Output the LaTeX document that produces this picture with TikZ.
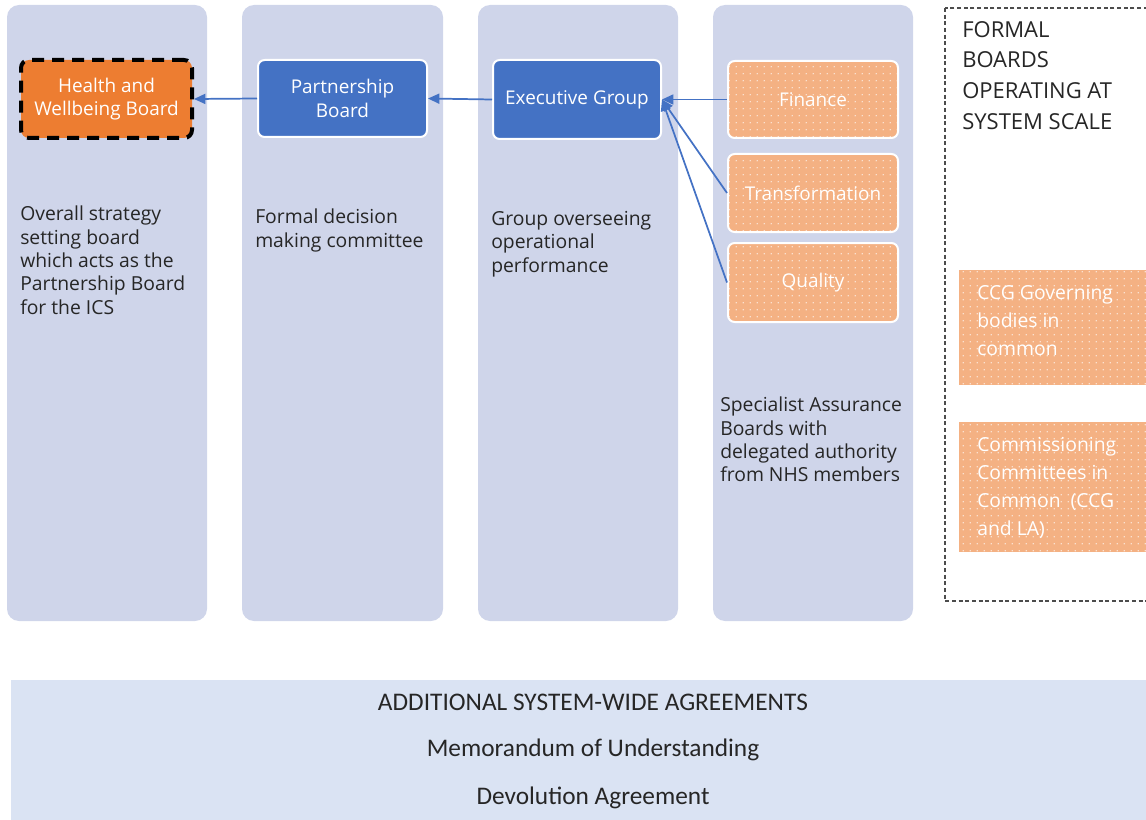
\documentclass[tikz,border=0pt]{standalone}
\usepackage{fontspec}
\setmainfont{Open Sans}
\newfontfamily\calfont{Carlito}
\usetikzlibrary{arrows.meta,patterns.meta}
\definecolor{panel}{HTML}{CFD5EA}
\definecolor{band}{HTML}{DAE3F3}
\definecolor{hwbor}{HTML}{ED7D31}
\definecolor{boxblue}{HTML}{4472C4}
\definecolor{peach}{HTML}{F4B183}
\definecolor{txt}{HTML}{262626}
\tikzdeclarepattern{
  name=wdots,
  type=uncolored,
  bounding box={(0pt,0pt) and (5pt,5pt)},
  tile size={(5pt,5pt)},
  code={\pgfpathcircle{\pgfpoint{2.5pt}{2.5pt}}{0.55pt}\pgfusepath{fill}}
}
\tikzset{
  panelbox/.style={fill=panel, rounded corners=9pt},
  bluebox/.style={fill=boxblue, draw=white, line width=1.5pt, rounded corners=5pt,
    text=white, align=center, font=\fontsize{14.2}{17.5}\selectfont, inner sep=0pt},
  hwbbox/.style={fill=hwbor, draw=black, line width=3pt, dash pattern=on 9pt off 6pt,
    rounded corners=6pt, text=white, align=center, font=\fontsize{14.2}{17.5}\selectfont, inner sep=0pt},
  dotbox/.style={preaction={fill=peach}, pattern=wdots, pattern color=white!85!peach,
    draw=white, line width=1.5pt, rounded corners=5pt, text=white, align=center,
    font=\fontsize{14.2}{17.5}\selectfont, inner sep=0pt},
  dotfill/.style={preaction={fill=peach}, pattern=wdots, pattern color=white!85!peach},
  dottext/.style={text=white, align=left, anchor=north west, inner sep=0pt,
    font=\fontsize{14.5}{21}\selectfont},
  desc/.style={text=txt, align=left, anchor=north west, inner sep=0pt,
    font=\fontsize{14.5}{17.5}\selectfont},
  link/.style={draw=boxblue, line width=1.3pt, -{Triangle[length=8.5pt,width=7.5pt]}},
  bandtext/.style={text=txt, font=\calfont\fontsize{19}{21}\selectfont, inner sep=0pt}
}
\begin{document}
\begin{tikzpicture}[x=0.75pt,y=-0.75pt]
\useasboundingbox (0,0) rectangle (1146,820);
\clip (0,0) rectangle (1146,820);
% columns
\path[panelbox] (7,5) rectangle (207,621);
\path[panelbox] (242,5) rectangle (443,621);
\path[panelbox] (478,5) rectangle (678,621);
\path[panelbox] (713,5) rectangle (913,621);
% outer dashed frame
\draw[draw=black!70, line width=0.8pt, dash pattern=on 3pt off 2pt] (945,8) rectangle (1160,601);
% bottom band
\path[fill=band] (11,680) rectangle (1160,830);
% nodes
\node[hwbbox, minimum width=128.25pt, minimum height=58.5pt] (hwb) at (106.5,99) {Health and\\Wellbeing Board};
\node[bluebox, minimum width=126.75pt, minimum height=57.75pt] (pb) at (342.5,98.5) {Partnership\\Board};
\node[bluebox, minimum width=126pt, minimum height=59.25pt] (exec) at (577,99.5) {Executive Group};
\node[dotbox, minimum width=127.5pt, minimum height=57.75pt] (fin) at (813,99.5) {Finance};
\node[dotbox, minimum width=127.5pt, minimum height=58.5pt] (trans) at (813,193) {Transformation};
\node[dotbox, minimum width=127.5pt, minimum height=59.25pt] (qual) at (813,282.5) {Quality};
\path[dotfill] (959,270) rectangle (1160,385);
\node[dottext] (ccg) at (977,285) {CCG Governing\\bodies in\\common};
\path[dotfill] (959,422) rectangle (1160,552);
\node[dottext] (comm) at (977,437) {Commissioning\\Committees in\\Common~ (CCG\\and LA)};
% connectors
\draw[link] (pb.west) -- (hwb.east);
\draw[link] (exec.west) -- (pb.east);
\draw[link] (fin.west) -- (exec.east);
\draw[link] (trans.west) -- (exec.east);
\draw[link] (qual.west) -- (exec.east);
% descriptions
\node[desc] (d1) at (20,206) {Overall strategy\\setting board\\which acts as the\\Partnership Board\\for the ICS};
\node[desc] (d2) at (255,209) {Formal decision\\making committee};
\node[desc] (d3) at (491,211) {Group overseeing\\operational\\performance};
\node[desc] (d4) at (720,397) {Specialist Assurance\\Boards with\\delegated authority\\from NHS members};
\node[desc, font=\fontsize{16.5}{23}\selectfont] (title) at (962,21) {FORMAL\\BOARDS\\OPERATING AT\\SYSTEM SCALE};
% band texts
\node[bandtext] (b1) at (593,702) {ADDITIONAL SYSTEM-WIDE AGREEMENTS};
\node[bandtext] (b2) at (593,750) {Memorandum of Understanding};
\node[bandtext] (b3) at (593,798) {Devolution Agreement};
\end{tikzpicture}
\end{document}
